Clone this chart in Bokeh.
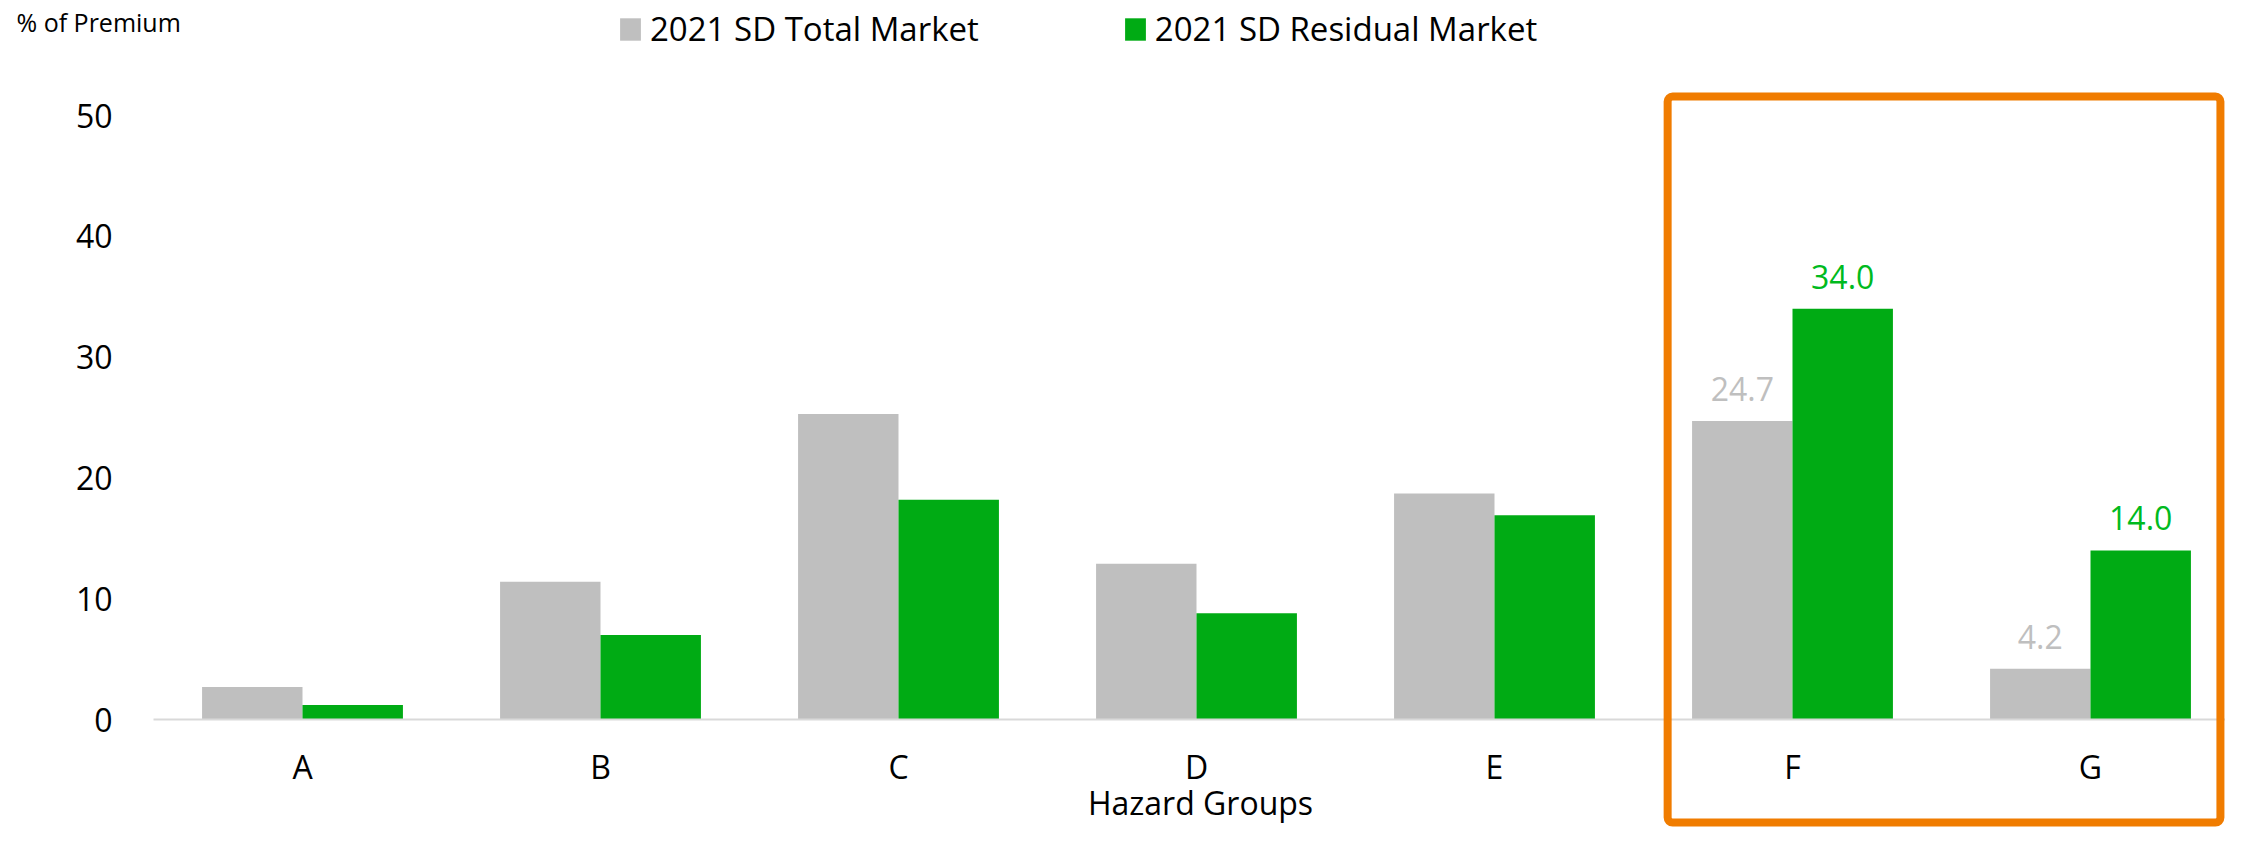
from bokeh.plotting import figure
from bokeh.models import (Range1d, FixedTicker, Legend, LegendItem,
                          Label, BoxAnnotation, ColumnDataSource)
from bokeh.transform import dodge
from bokeh.core.properties import value
from bokeh.embed import file_html
from bokeh.resources import INLINE

# ---- data ----
categories = ["A", "B", "C", "D", "E", "F", "G"]
total_market = [2.7, 11.4, 25.3, 12.9, 18.7, 24.7, 4.2]
residual_market = [1.2, 7.0, 18.2, 8.8, 16.9, 34.0, 14.0]
series_names = ["2021 SD Total Market", "2021 SD Residual Market"]
y_ticks = [0, 10, 20, 30, 40, 50]
highlighted = ["F", "G"]
y_title = "% of Premium"
x_title = "Hazard Groups"

# ---- styles ----
FONT = "Open Sans"
GRAY = "#BFBFBF"
GREEN = "#00AB14"
GREEN_TXT = "#00BA1E"
ORANGE = "#F07C00"
FS = "32px"

W, H = 2225, 828
PX_PER_CAT = 298.0
PX_PER_UNIT = 12.08
x0 = -302.0 / PX_PER_CAT            # left edge of canvas in category units
y0 = -(H - 719.0) / PX_PER_UNIT     # bottom edge of canvas in value units

p = figure(x_range=Range1d(x0, x0 + W / PX_PER_CAT),
           y_range=Range1d(y0, y0 + H / PX_PER_UNIT),
           width=W, height=H, output_backend="svg", toolbar_location=None,
           min_border_left=0, min_border_right=0, min_border_top=0,
           min_border_bottom=0)
p.outline_line_color = None
p.xgrid.visible = False
p.ygrid.visible = False
p.background_fill_color = "white"

pos = list(range(len(categories)))
src = ColumnDataSource(dict(x=pos, total=total_market, residual=residual_market))
off = 0.1685
bw = 0.337
r1 = p.vbar(x=dodge("x", -off), top="total", width=bw,
            source=src, fill_color=GRAY, line_color=None)
r2 = p.vbar(x=dodge("x", off), top="residual", width=bw,
            source=src, fill_color=GREEN, line_color=None)

# data labels for highlighted groups
idx = [categories.index(c) for c in highlighted]
lab = ColumnDataSource(dict(
    x=idx,
    total=[total_market[i] for i in idx],
    residual=[residual_market[i] for i in idx],
    total_txt=["{:.1f}".format(total_market[i]) for i in idx],
    residual_txt=["{:.1f}".format(residual_market[i]) for i in idx],
))
p.text(x=dodge("x", -off), y="total", text="total_txt", source=lab,
       text_align="center", text_baseline="middle", y_offset=-32,
       text_color=GRAY, text_font=value(FONT), text_font_size=FS)
p.text(x=dodge("x", off), y="residual", text="residual_txt", source=lab,
       text_align="center", text_baseline="middle", y_offset=-32,
       text_color=GREEN_TXT, text_font=value(FONT), text_font_size=FS)

# axes (drawn at fixed locations inside the frame)
xa = p.xaxis[0]
xa.fixed_location = 0
xa.bounds = (-0.5, len(categories) - 0.5)
xa.ticker = FixedTicker(ticks=pos)
xa.major_label_overrides = {i: c for i, c in enumerate(categories)}
xa.axis_line_color = "#D9D9D9"
xa.axis_line_width = 2
xa.major_tick_line_color = None
xa.minor_tick_line_color = None
xa.major_label_text_font = FONT
xa.major_label_text_font_size = FS
xa.major_label_text_color = "black"
xa.major_label_standoff = 19

ya = p.yaxis[0]
ya.fixed_location = -0.5
ya.ticker = FixedTicker(ticks=y_ticks)
ya.axis_line_color = None
ya.major_tick_line_color = None
ya.minor_tick_line_color = None
ya.major_label_text_font = FONT
ya.major_label_text_font_size = FS
ya.major_label_text_color = "black"
ya.major_label_standoff = 35

# x-axis title
p.add_layout(Label(x=1200, y=H - 802, x_units="screen", y_units="screen", text=x_title,
                   text_font=FONT, text_font_size=FS, text_color="black",
                   text_baseline="middle", text_align="center"))

# legend
legend = Legend(items=[LegendItem(label=series_names[0], renderers=[r1]),
                       LegendItem(label=series_names[1], renderers=[r2])],
                orientation="horizontal", location=(617, H - 51),
                glyph_width=26, glyph_height=28, label_standoff=7, spacing=143,
                padding=0, margin=0, border_line_alpha=0, background_fill_alpha=0,
                label_text_font=FONT, label_text_font_size="33px", label_text_color="black")
p.add_layout(legend)

# y title at top-left
p.add_layout(Label(x=16, y=H - 21, x_units="screen", y_units="screen", text=y_title,
                   text_font=FONT, text_font_size="25px", text_color="black",
                   text_baseline="middle", text_align="left"))

# highlight box around F and G
p.add_layout(BoxAnnotation(left=4.581, right=6.436, top=51.57, bottom=-8.53,
                           fill_alpha=0, line_alpha=1, line_color=ORANGE, line_width=8,
                           border_radius=5))

open("out.html", "w").write(file_html(p, INLINE))
